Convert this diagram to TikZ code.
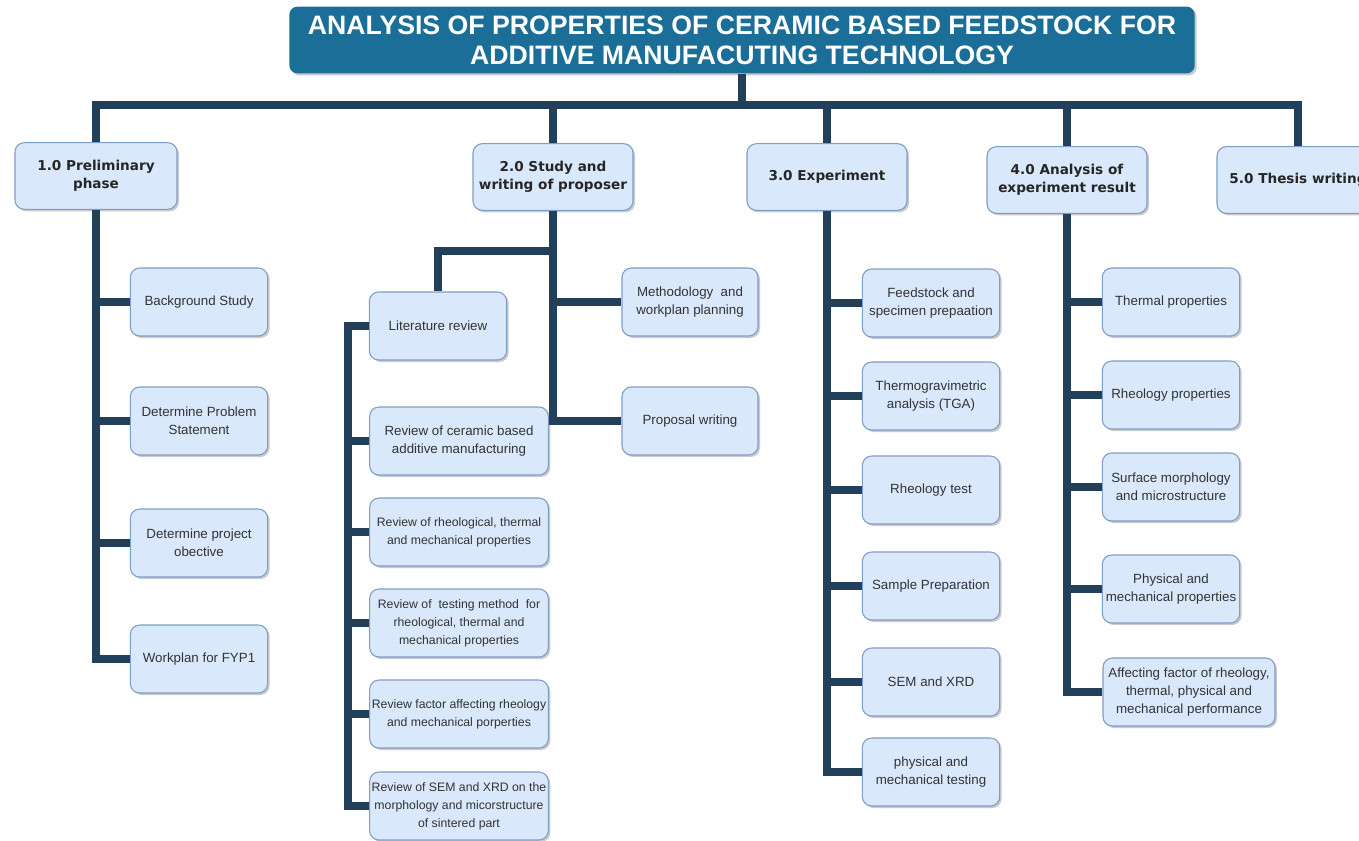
\documentclass[tikz,border=0pt]{standalone}
\usepackage{fontspec}
\setmainfont{Liberation Sans}
\newfontfamily\phasefont{DejaVu Sans}
\usepackage{xcolor}
\usepackage{tikz}
\usetikzlibrary{positioning, shadows}

\definecolor{titleblue}{HTML}{1B6E98}
\definecolor{busnavy}{HTML}{23405A}
\definecolor{boxfill}{HTML}{DAE8FC}
\definecolor{boxline}{HTML}{7E9CC8}
\definecolor{boxtext}{HTML}{333333}

\begin{document}
\begin{tikzpicture}[
		x=0.75pt, y=-0.75pt,
		% Define styles
		heading/.style={
			rectangle,
			fill=titleblue,
			rounded corners=6pt,
			drop shadow={shadow xshift=1.5pt, shadow yshift=-1.5pt, opacity=0.35, fill=black!60},
			text=white,
			font=\fontsize{20}{22.5}\selectfont\bfseries,
			align=center,
			minimum width=679pt,
			minimum height=50pt
		},
		phase/.style={
			rectangle,
			draw=boxline,
			line width=0.8pt,
			rounded corners=7pt,
			fill=boxfill,
			drop shadow={shadow xshift=1.5pt, shadow yshift=-1.5pt, opacity=0.35, fill=black!60},
			text=black!85,
			font=\phasefont\fontsize{10.2}{13.5}\selectfont\bfseries,
			align=center,
			minimum width=120pt,
			minimum height=50pt
		},
		task/.style={
			rectangle,
			draw=boxline,
			line width=0.8pt,
			rounded corners=7pt,
			fill=boxfill,
			drop shadow={shadow xshift=1.5pt, shadow yshift=-1.5pt, opacity=0.35, fill=black!60},
			text=boxtext,
			font=\fontsize{10}{13.5}\selectfont,
			align=center,
			inner sep=1pt,
			minimum width=103pt,
			minimum height=51pt
		},
		review/.style={
			task,
			font=\fontsize{9.2}{13.5}\selectfont,
			minimum width=134pt
		},
		% Define connector style
		link/.style={draw=busnavy, line width=6pt}
		]
		
		\useasboundingbox (0,0) rectangle (1359,840);
		\clip (0,0) rectangle (1359,840);
		
		% ----- Title Node -----
		\node[heading] (title) at (742,40)
		{ANALYSIS OF PROPERTIES OF CERAMIC BASED FEEDSTOCK FOR\\ADDITIVE MANUFACUTING TECHNOLOGY};
		\coordinate (hub) at (742,105);
		
		% ----- Phases -----
		\node[phase, minimum width=121.5pt] (prelim) at (96,176) {1.0 Preliminary\\phase};
		\node[phase] (proposal) at (553,177) {2.0 Study and\\writing of proposer};
		\node[phase] (experiment) at (827,177) {3.0 Experiment};
		\node[phase] (analysis) at (1067,180) {4.0 Analysis of\\experiment result};
		\node[phase, minimum width=121.5pt] (thesis) at (1298,180) {5.0 Thesis writing};
		
		% ----- 1.0 Preliminary phase -----
		\node[task] (background) at (199,302) {Background Study};
		\node[task] (problem) at (199,421) {Determine Problem\\Statement};
		\node[task] (objective) at (199,543) {Determine project\\obective};
		\node[task] (workplan) at (199,659) {Workplan for FYP1};
		
		% ----- 2.0 Study and writing of proposer -----
		\node[task] (literature) at (438,326) {Literature review};
		\node[task, minimum width=102pt] (methodology) at (690,302) {Methodology\ \ and\\workplan planning};
		\node[task, minimum width=102pt] (writing) at (690,421) {Proposal writing};
		\coordinate (litsplit) at (553,251);
		\coordinate (littrunk) at (348,326);
		
		\node[review, font=\fontsize{10}{13.5}\selectfont] (rev-ceramic) at (459,441) {Review of ceramic based\\additive manufacturing};
		\node[review] (rev-props) at (459,532) {Review of rheological, thermal\\and mechanical properties};
		\node[review] (rev-testing) at (459,623) {Review of\ \ testing method\ \ for\\rheological, thermal and\\mechanical properties};
		\node[review] (rev-factor) at (459,714) {Review factor affecting rheology\\and mechanical porperties};
		\node[review] (rev-sem) at (459,806) {Review of SEM and XRD on the\\morphology and micorstructure\\of sintered part};
		
		% ----- 3.0 Experiment -----
		\node[task] (feedstock) at (931,303) {Feedstock and\\specimen prepaation};
		\node[task] (tga) at (931,396) {Thermogravimetric\\analysis (TGA)};
		\node[task] (rheo-test) at (931,490) {Rheology test};
		\node[task] (sample) at (931,586) {Sample Preparation};
		\node[task] (sem-xrd) at (931,682) {SEM and XRD};
		\node[task] (phys-test) at (931,772) {physical and\\mechanical testing};
		
		% ----- 4.0 Analysis of experiment result -----
		\node[task] (thermal) at (1171,302) {Thermal properties};
		\node[task] (rheology) at (1171,395) {Rheology properties};
		\node[task] (surface) at (1171,487) {Surface morphology\\and microstructure};
		\node[task] (physical) at (1171,589) {Physical and\\mechanical properties};
		\node[task, minimum width=129pt] (affecting) at (1189,692) {Affecting factor of rheology,\\thermal, physical and\\mechanical performance};
		
		% ----- Connectors -----
		\draw[link] (title) -- (hub);
		\draw[link] (hub) -| (prelim.north);
		\draw[link] (hub) -| (proposal.north);
		\draw[link] (hub) -| (experiment.north);
		\draw[link] (hub) -| (analysis.north);
		\draw[link] (hub) -| (thesis.north);
		
		\draw[link] (prelim.south) |- (background.west);
		\draw[link] (prelim.south) |- (problem.west);
		\draw[link] (prelim.south) |- (objective.west);
		\draw[link] (prelim.south) |- (workplan.west);
		
		\draw[link] (proposal.south) -- (litsplit) -| (literature.north);
		\draw[link] (proposal.south) |- (methodology.west);
		\draw[link] (proposal.south) |- (writing.west);
		
		\draw[link] (literature.west) -- (littrunk) |- (rev-ceramic.west);
		\draw[link] (literature.west) -- (littrunk) |- (rev-props.west);
		\draw[link] (literature.west) -- (littrunk) |- (rev-testing.west);
		\draw[link] (literature.west) -- (littrunk) |- (rev-factor.west);
		\draw[link] (literature.west) -- (littrunk) |- (rev-sem.west);
		
		\draw[link] (experiment.south) |- (feedstock.west);
		\draw[link] (experiment.south) |- (tga.west);
		\draw[link] (experiment.south) |- (rheo-test.west);
		\draw[link] (experiment.south) |- (sample.west);
		\draw[link] (experiment.south) |- (sem-xrd.west);
		\draw[link] (experiment.south) |- (phys-test.west);
		
		\draw[link] (analysis.south) |- (thermal.west);
		\draw[link] (analysis.south) |- (rheology.west);
		\draw[link] (analysis.south) |- (surface.west);
		\draw[link] (analysis.south) |- (physical.west);
		\draw[link] (analysis.south) |- (affecting.west);
		
	\end{tikzpicture}
\end{document}
